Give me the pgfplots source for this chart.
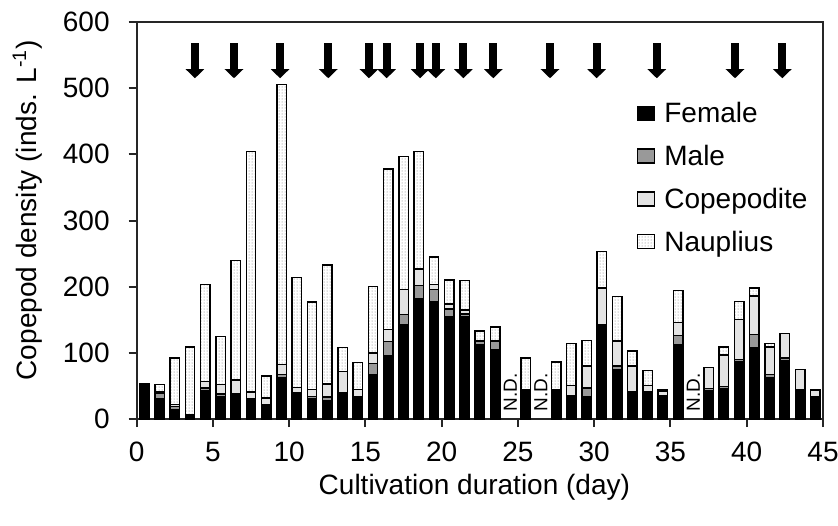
\documentclass[border=0pt]{standalone}
\usepackage{pgfplots}
\pgfplotsset{compat=1.18}
\usepackage{pgfplotstable}
\usepackage{fontspec}
\setmainfont{Liberation Sans}
\usetikzlibrary{arrows.meta,patterns.meta}

% Copepod density by stage (inds. per litre); days without data (N.D.) are left out
\pgfplotstableread{
day  female male copepodite nauplius
0.5   49   2   1    2
1.5   30   9   2   11
2.5   14   5   3   70
3.5    6   0   1  102
4.5   43   4  10  146
5.5   34   4  14   73
6.5   35   3  21  181
7.5   29   1  11  363
8.5   22   0  10   33
9.5   62   5  15  424
10.5  39   1   8  166
11.5  31   3  11  132
12.5  28   5  20  180
13.5  40   0  32   36
14.5  34   0  11   40
15.5  67  17  16  100
16.5  95  22  18  243
17.5 143  15  38  201
18.5 182  20  25  177
19.5 177  19   7   42
20.5 155  11   8   36
21.5 155   4   6   44
22.5 112   5   2   14
23.5 105  12   1   21
25.5  45   0   0   47
27.5  44   0   0   42
28.5  34   1  16   63
29.5  33  14  33   39
30.5 139   3  56   55
31.5  75   5  38   67
32.5  41   1  38   23
33.5  40   1  10   22
34.5  33   2   7    2
35.5 113  13  20   48
37.5  43   3  32    0
38.5  46   3  48   12
39.5  87   3  60   28
40.5 108  20  58   12
41.5  63   4  42    5
42.5  88   4  37    0
43.5  44   1  30    0
44.5  33   0  11    0
}\copepods

\newcommand{\lblfont}{\fontsize{14}{16.8}\selectfont}

\begin{document}
\begin{tikzpicture}
\useasboundingbox (0pt,0pt) rectangle (419pt,262.5pt);
\begin{axis}[
  at={(68.35pt,53pt)}, anchor=south west,
  scale only axis, width=343.15pt, height=198.5pt,
  xmin=0, xmax=45, ymin=0, ymax=600,
  enlargelimits=false,
  xtick={0,5,...,45}, ytick={0,100,...,600},
  tick pos=left, tick align=outside, major tick length=4pt,
  axis line style={black!85, line width=1pt},
  major tick style={black!85, line width=1pt},
  /pgf/number format/assume math mode=true,
  tick label style={font=\lblfont, inner sep=0pt},
  yticklabel style={anchor=east, xshift=-9.35pt},
  xticklabel style={anchor=north, yshift=-7.5pt},
  label style={font=\lblfont},
  xlabel={Cultivation duration (day)},
  ylabel={Copepod density (inds. L\textsuperscript{-1})},
  xlabel style={at={(axis description cs:0.492,-0.171)}, anchor=center},
  ylabel style={at={(axis description cs:-0.159,0.526)}, anchor=center},
  ybar stacked, bar width=4.7pt,
  every axis plot/.append style={draw=black, line width=0.7pt},
  legend cell align=left,
  legend image code/.code={\draw[#1, line width=0.7pt] (0pt,-2.5pt) rectangle (8.5pt,4.5pt);},
  legend style={draw=none, fill=none, at={(0.7285,0.799)}, anchor=north west,
    inner sep=0pt, outer sep=0pt, font=\lblfont, row sep=7.9pt, column sep=4.65pt,
    nodes={inner sep=0pt, text height=10.5pt, text depth=3pt}},
]
\addplot[fill=black] table[x=day, y=female] {\copepods};
\addplot[fill=black!40] table[x=day, y=male] {\copepods};
\addplot[fill=black!11] table[x=day, y=copepodite] {\copepods};
\addplot[pattern={Dots[distance=1.5pt, radius=0.25pt]}, pattern color=black!55] table[x=day, y=nauplius] {\copepods};
\legend{Female, Male, Copepodite, Nauplius}

% days on which the culture was harvested
\pgfplotsinvokeforeach{3.82,6.38,9.40,12.56,15.23,16.39,18.58,19.61,21.42,23.38,27.10,30.16,34.10,39.23,42.33}{
  \draw[black, line width=4pt, -{Triangle[width=9pt, length=4.5pt]}] (axis cs:#1,568) -- (axis cs:#1,515);
}
% sampling days without data
\pgfplotsinvokeforeach{24.5,26.5,36.5}{
  \node[rotate=90, anchor=west, inner sep=0pt, font=\fontsize{9.5}{11}\selectfont] at (axis cs:#1,10.6) {N.D.};
}
\end{axis}
\end{tikzpicture}
\end{document}
